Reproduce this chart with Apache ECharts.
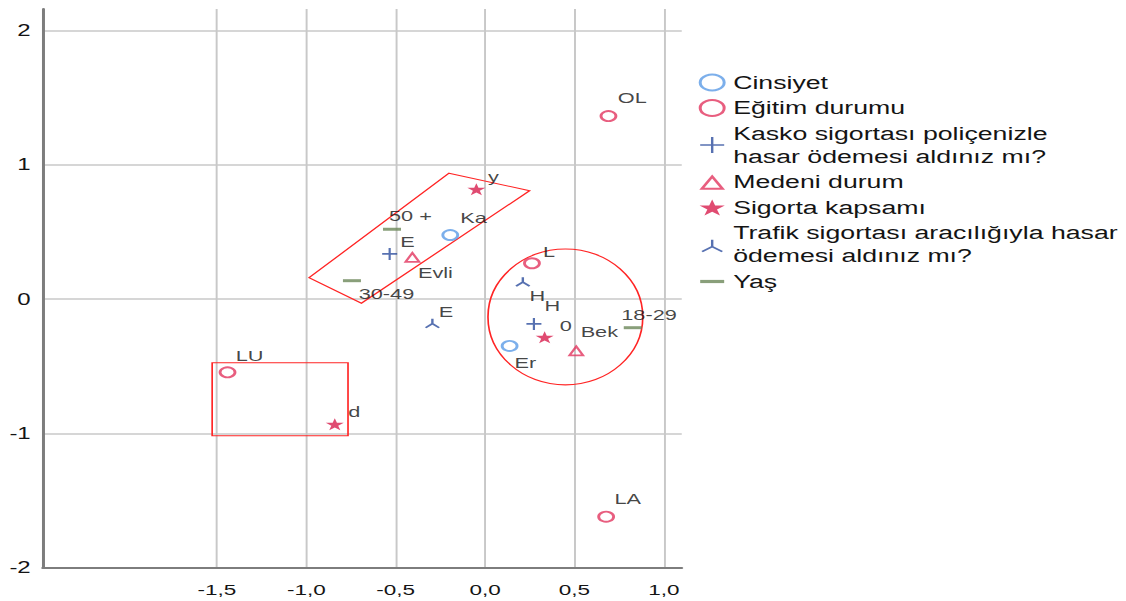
<!DOCTYPE html>
<html>
<head>
<meta charset="utf-8">
<script src="https://cdn.jsdelivr.net/npm/echarts@6/dist/echarts.min.js"></script>
<style>
  html, body { margin: 0; padding: 0; background: #fff; overflow: hidden; }
  #frame { width: 1126px; height: 601px; overflow: hidden; position: relative; }
  /* the plot is laid out narrow and widened horizontally, like the exported joint plot */
  #chart { width: 751px; height: 601px; transform: scaleX(1.49933); transform-origin: 0 0; }
</style>
</head>
<body>
<div id="frame"><div id="chart"></div></div>
<script>
// ---- axis ranges and ticks ----
const xRange = [-2.475, 1.1];
const yRange = [-2, 2.16];
const xTicks = [-1.5, -1, -0.5, 0, 0.5, 1];
const yTicks = [-2, -1, 0, 1, 2];

// ---- variable names (legend order) ----
const variableNames = [
  'Cinsiyet',
  'Eğitim durumu',
  'Kasko sigortası poliçenizle hasar ödemesi aldınız mı?',
  'Medeni durum',
  'Sigorta kapsamı',
  'Trafik sigortası aracılığıyla hasar ödemesi aldınız mı?',
  'Yaş'
];

// ---- category points (dimension 1, dimension 2) ----
const cinsiyetCats = ['Ka', 'Er'];
const cinsiyetXY = [[-0.195, 0.477], [0.137, -0.349]];

const egitimCats = ['OL', 'L', 'LU', 'LA'];
const egitimXY = [[0.690, 1.363], [0.262, 0.267], [-1.441, -0.545], [0.677, -1.620]];

const kaskoCats = ['E', 'H'];
const kaskoXY = [[-0.534, 0.336], [0.273, -0.185]];

const medeniCats = ['Evli', 'Bek'];
const medeniXY = [[-0.407, 0.311], [0.510, -0.386]];

const kapsamCats = ['y', '0', 'd'];
const kapsamXY = [[-0.049, 0.818], [0.333, -0.284], [-0.841, -0.932]];

const trafikCats = ['H', 'E'];
const trafikXY = [[0.211, 0.130], [-0.295, -0.180]];

const yasCats = ['50 +', '30-49', '18-29'];
const yasXY = [[-0.521, 0.520], [-0.745, 0.137], [0.826, -0.213]];

// ---- hand-drawn grouping outlines, in data units ----
const groupBand = [[-0.202, 0.937], [0.249, 0.807], [-0.692, -0.031], [-0.985, 0.159]];
const groupBox = [[-1.527, -0.474], [-0.767, -0.474], [-0.767, -1.017], [-1.527, -1.017]];
const groupRingCenter = [0.449, -0.133];
const groupRingRadii = [0.433, 0.506];

// ---- label placement (pixel nudges from each marker centre) ----
const labelNudge = {
  'Cinsiyet': [[6.7, -16.7], [3.3, 17]],
  'Eğitim durumu': [[6.2, -17.7], [7.3, -11], [5.5, -16.6], [5.5, -17.4]],
  'Kasko sigortası poliçenizle hasar ödemesi aldınız mı?': [[7.1, -12.3], [7.1, -18]],
  'Medeni durum': [[3.7, 16], [2.9, -18.7]],
  'Sigorta kapsamı': [[7.7, -12.8], [10, -11.3], [8.9, -12.6]],
  'Trafik sigortası aracılığıyla hasar ödemesi aldınız mı?': [[4.5, 14.3], [4.2, -11.6]],
  'Yaş': [[-2, -13.3], [4.5, 13.3], [-7.7, -12.7]]
};

const FONT = '"Liberation Sans", Arial, sans-serif';
const TEXT = '#141414';
const BLUE_LIGHT = '#5b9be6';
const CRIMSON = '#e2365f';
const STAR_RED = '#d81e4e';
const NAVY = '#2d4d9d';
const GREEN = '#6b8759';
const OUTLINE_RED = '#ff2424';
const CLEAR = 'rgba(0,0,0,0)';

const PLUS = 'path://M0,5H10M5,0V10';
const TRI_BRANCH = 'path://M5,0V5.5M5,5.5L0,10M5,5.5L10,10';
const TRI_BRANCH_ICON = 'path://M0,0M10,10M5,2V6.3M5,6.3L0.8,9.4M5,6.3L9.2,9.4';
const TRIANGLE_ICON = 'path://M0,0M10,10M5,1.6L9.3,9.2H0.7Z';
const STAR = 'path://M50,0L61.8,36.2L100,36.2L69.1,58.8L80.9,95.1L50,72.7L19.1,95.1L30.9,58.8L0,36.2L38.2,36.2Z';
const BAR_ICON = 'path://M0,0M10,10M0,4H10V6H0Z';

function pointSeries(name, cats, xy, symbol, symbolSize, itemStyle) {
  const nudges = labelNudge[name];
  return {
    type: 'scatter',
    name: name,
    symbol: symbol,
    symbolSize: symbolSize,
    itemStyle: itemStyle,
    z: 3,
    emphasis: { disabled: true },
    data: xy.map((p, i) => ({ value: p, name: cats[i], label: { offset: nudges[i] } })),
    label: {
      show: true,
      position: 'inside',
      align: 'left',
      verticalAlign: 'middle',
      formatter: (p) => p.name,
      color: TEXT,
      fontSize: 14.5,
      fontFamily: FONT
    }
  };
}

const outlineShapes = ['band', 'box', 'ring'];

function renderOutline(params, api) {
  const kind = outlineShapes[params.dataIndex];
  const style = { stroke: OUTLINE_RED, lineWidth: 1.1, fill: 'none' };
  if (kind === 'band' || kind === 'box') {
    const pts = (kind === 'band' ? groupBand : groupBox).map((p) => api.coord(p));
    return { type: 'polygon', shape: { points: pts }, style: style, silent: true };
  }
  const c = api.coord(groupRingCenter);
  const rx = api.size([groupRingRadii[0], 0])[0];
  const ry = api.size([0, groupRingRadii[1]])[1];
  return { type: 'ellipse', shape: { cx: c[0], cy: c[1], rx: rx, ry: ry }, style: style, silent: true };
}

const legendText = {
  'Kasko sigortası poliçenizle hasar ödemesi aldınız mı?': 'Kasko sigortası poliçenizle\nhasar ödemesi aldınız mı?',
  'Trafik sigortası aracılığıyla hasar ödemesi aldınız mı?': 'Trafik sigortası aracılığıyla hasar\nödemesi aldınız mı?'
};

const chart = echarts.init(document.getElementById('chart'), null, { renderer: 'svg' });

chart.setOption({
  animation: false,
  backgroundColor: '#ffffff',
  grid: { left: 28.48, right: 296.3, top: 9, bottom: 33.3 },
  xAxis: {
    type: 'value',
    min: xRange[0],
    max: xRange[1],
    axisLine: { show: true, onZero: false, lineStyle: { color: '#7d7d7d', width: 2 } },
    axisTick: { show: false, customValues: xTicks },
    axisLabel: {
      customValues: xTicks,
      formatter: (v) => v.toFixed(1).replace('.', ','),
      color: TEXT, fontSize: 15, fontFamily: FONT, margin: 15
    },
    splitLine: { show: true, lineStyle: { color: '#c8c8c8', width: 1.3 } }
  },
  yAxis: {
    type: 'value',
    min: yRange[0],
    max: yRange[1],
    axisLine: { show: true, onZero: false, lineStyle: { color: '#7d7d7d', width: 2 } },
    axisTick: { show: false, customValues: yTicks },
    axisLabel: {
      customValues: yTicks,
      formatter: (v) => String(v),
      color: TEXT, fontSize: 16, fontFamily: FONT, margin: 8
    },
    splitLine: { show: true, lineStyle: { color: '#c8c8c8', width: 1.6 } }
  },
  legend: {
    orient: 'vertical',
    left: 461,
    top: 66,
    itemWidth: 18,
    itemHeight: 16,
    itemGap: 2.5,
    selectedMode: false,
    textStyle: { color: TEXT, fontSize: 17.8, lineHeight: 23, fontFamily: FONT },
    formatter: (name) => legendText[name] || name,
    data: [
      { name: variableNames[0], icon: 'circle', itemStyle: { color: CLEAR, borderColor: BLUE_LIGHT, borderWidth: 2 } },
      { name: variableNames[1], icon: 'circle', itemStyle: { color: CLEAR, borderColor: CRIMSON, borderWidth: 2 } },
      { name: variableNames[2], icon: PLUS, itemStyle: { color: CLEAR, borderColor: NAVY, borderWidth: 1.6 } },
      { name: variableNames[3], icon: TRIANGLE_ICON, itemStyle: { color: CLEAR, borderColor: CRIMSON, borderWidth: 2 } },
      { name: variableNames[4], icon: STAR, itemStyle: { color: STAR_RED, borderWidth: 0 } },
      { name: variableNames[5], icon: TRI_BRANCH_ICON, itemStyle: { color: CLEAR, borderColor: NAVY, borderWidth: 1.6 } },
      { name: variableNames[6], icon: BAR_ICON, itemStyle: { color: GREEN, borderWidth: 0 } }
    ]
  },
  series: [
    {
      type: 'custom',
      name: 'outlines',
      z: 2,
      silent: true,
      clip: false,
      renderItem: renderOutline,
      data: outlineShapes.map(() => [0, 0])
    },
    pointSeries(variableNames[0], cinsiyetCats, cinsiyetXY, 'circle', 10,
      { color: CLEAR, borderColor: BLUE_LIGHT, borderWidth: 1.9 }),
    pointSeries(variableNames[1], egitimCats, egitimXY, 'circle', 10,
      { color: CLEAR, borderColor: CRIMSON, borderWidth: 1.9 }),
    pointSeries(variableNames[2], kaskoCats, kaskoXY, PLUS, [10, 12],
      { color: CLEAR, borderColor: NAVY, borderWidth: 1.6 }),
    pointSeries(variableNames[3], medeniCats, medeniXY, 'triangle', 9,
      { color: CLEAR, borderColor: CRIMSON, borderWidth: 1.7 }),
    pointSeries(variableNames[4], kapsamCats, kapsamXY, STAR, 12,
      { color: STAR_RED }),
    pointSeries(variableNames[5], trafikCats, trafikXY, TRI_BRANCH, 9,
      { color: CLEAR, borderColor: NAVY, borderWidth: 1.6 }),
    pointSeries(variableNames[6], yasCats, yasXY, 'rect', [12, 3],
      { color: GREEN })
  ]
});
</script>
</body>
</html>
